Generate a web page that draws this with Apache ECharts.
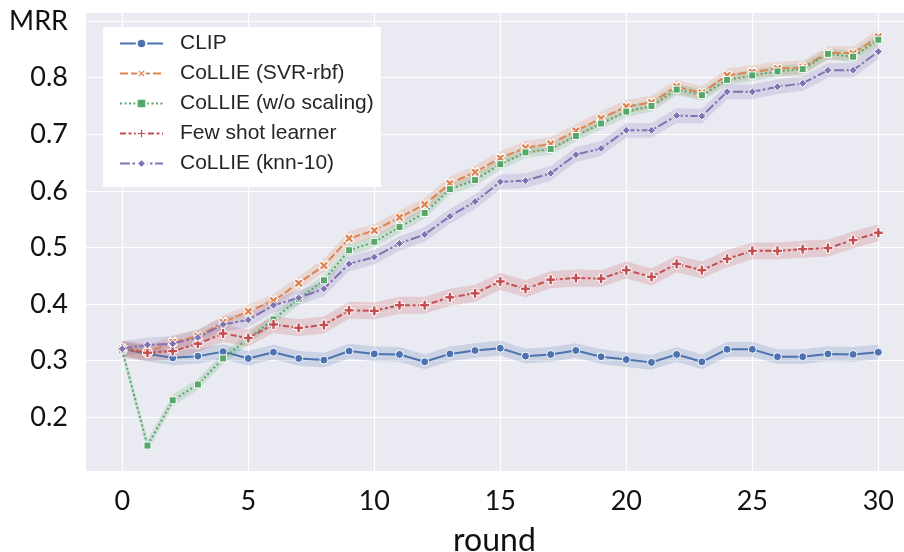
<!DOCTYPE html>
<html>
<head>
<meta charset="utf-8">
<script src="https://cdn.jsdelivr.net/npm/echarts@6/dist/echarts.min.js"></script>
<style>
html,body{margin:0;padding:0;background:#fff;}
#chart{width:904px;height:552px;}
</style>
</head>
<body>
<div id="chart"></div>
<script>
// ---- data ----
const rounds = [0,1,2,3,4,5,6,7,8,9,10,11,12,13,14,15,16,17,18,19,20,21,22,23,24,25,26,27,28,29,30];
const seriesNames = ['CLIP', 'CoLLIE (SVR-rbf)', 'CoLLIE (w/o scaling)', 'Few shot learner', 'CoLLIE (knn-10)'];
const clipMRR = [0.321,0.312,0.305,0.308,0.316,0.304,0.315,0.304,0.301,0.317,0.312,0.311,0.298,0.312,0.318,0.322,0.308,0.311,0.318,0.307,0.302,0.297,0.311,0.298,0.320,0.320,0.307,0.307,0.312,0.311,0.315];
const svrMRR  = [0.321,0.315,0.333,0.343,0.368,0.387,0.406,0.437,0.468,0.516,0.530,0.553,0.576,0.613,0.633,0.658,0.676,0.683,0.706,0.728,0.749,0.756,0.784,0.773,0.804,0.810,0.816,0.818,0.844,0.843,0.872];
const woMRR   = [0.318,0.150,0.230,0.258,0.304,0.339,0.373,0.409,0.442,0.495,0.510,0.536,0.561,0.603,0.619,0.647,0.668,0.674,0.697,0.719,0.740,0.750,0.779,0.769,0.796,0.804,0.811,0.815,0.842,0.837,0.867];
const fewMRR  = [0.321,0.314,0.317,0.330,0.348,0.340,0.364,0.358,0.363,0.389,0.388,0.398,0.398,0.412,0.419,0.440,0.427,0.443,0.446,0.445,0.460,0.448,0.471,0.460,0.480,0.494,0.494,0.497,0.499,0.513,0.526];
const knnMRR  = [0.321,0.328,0.330,0.341,0.364,0.372,0.398,0.411,0.427,0.471,0.483,0.507,0.523,0.555,0.581,0.616,0.618,0.631,0.664,0.675,0.707,0.707,0.733,0.732,0.775,0.775,0.784,0.790,0.813,0.813,0.846];
// estimated half-width of each confidence band
const ciHalf = [0.013, 0.012, 0.010, 0.015, 0.013];
const xTicks = [0,5,10,15,20,25,30];
const yTicks = [0.2,0.3,0.4,0.5,0.6,0.7,0.8];
const yTopLabel = 'MRR';
const xName = 'round';

// ---- styles ----
const values = [clipMRR, svrMRR, woMRR, fewMRR, knnMRR];
const colors = ['#4C72B0', '#DD8452', '#55A868', '#C44E52', '#8172B3'];
const plusPath = 'path://M2,0H4V2H6V4H4V6H2V4H0V2H2Z';
const symbols = ['circle', plusPath, 'rect', plusPath, 'diamond'];
const symbolSizes = [8, 10, 7, 10, 8];
const symbolRot = [0, 45, 0, 0, 0];
const dashes = ['solid', [8, 3], [2, 2.5], [6, 2.5, 3, 2.5], [10, 2.5, 2.5, 2.5]];

const series = [];
values.forEach((vals, k) => {
  const rows = rounds.map((r, i) => [r, vals[i] - ciHalf[k], vals[i] + ciHalf[k]]);
  series.push({
    type: 'custom', name: 'band' + k, silent: true, z: 1,
    data: rows,
    encode: {x: 0, y: [1, 2]},
    renderItem: (params, api) => {
      if (params.dataIndex !== 0) return null;
      const upper = rows.map(row => api.coord([row[0], row[2]]));
      const lower = rows.map(row => api.coord([row[0], row[1]])).reverse();
      return {
        type: 'polygon',
        shape: {points: upper.concat(lower)},
        style: {fill: colors[k], opacity: 0.2}
      };
    }
  });
});
values.forEach((vals, k) => {
  series.push({
    type: 'line', name: seriesNames[k], z: 3 + k,
    symbol: symbols[k], symbolSize: symbolSizes[k], symbolRotate: symbolRot[k],
    showAllSymbol: true,
    lineStyle: {color: colors[k], width: 2, type: dashes[k]},
    itemStyle: {color: colors[k], borderColor: '#ffffff', borderWidth: 1},
    data: rounds.map((r, i) => [r, vals[i]])
  });
});

const near = (v, list) => list.find(t => Math.abs(t - v) < 1e-6);

const chart = echarts.init(document.getElementById('chart'), null, {renderer: 'canvas'});
chart.setOption({
  animation: false,
  backgroundColor: '#ffffff',
  grid: {left: 85, right: 0, top: 12, bottom: 81, show: true, backgroundColor: '#EAEAF2', borderWidth: 0,
         containLabel: false, outerBoundsMode: 'none'},
  legend: {
    data: seriesNames,
    orient: 'vertical', left: 103, top: 27,
    backgroundColor: '#ffffff', borderWidth: 0,
    padding: [6, 7, 13, 16],
    itemWidth: 43, itemHeight: 12, itemGap: 9,
    textStyle: {fontFamily: 'Liberation Sans', fontSize: 21, color: '#262626', padding: [0, 0, 0, 12]}
  },
  xAxis: {
    type: 'value', min: -1.48, max: 31.02, minInterval: 5, maxInterval: 5,
    axisLine: {show: false}, axisTick: {show: false},
    splitLine: {show: true, lineStyle: {color: '#ffffff', width: 1.2}},
    axisLabel: {
      margin: 17, fontFamily: 'Lato', fontSize: 27, color: '#111',
      formatter: v => { const t = near(v, xTicks); return t === undefined ? '' : String(t); }
    },
    name: xName, nameLocation: 'middle', nameGap: 54,
    nameTextStyle: {fontFamily: 'Lato', fontSize: 32, color: '#111'}
  },
  yAxis: {
    type: 'value', min: 0.1051, max: 0.916, minInterval: 0.1, maxInterval: 0.1,
    axisLine: {show: false}, axisTick: {show: false},
    splitLine: {show: true, lineStyle: {color: '#ffffff', width: 1.2}},
    axisLabel: {
      margin: 17, fontFamily: 'Lato', fontSize: 27, color: '#111',
      formatter: v => {
        if (Math.abs(v - 0.9) < 1e-6) return yTopLabel;
        const t = near(v, yTicks); return t === undefined ? '' : t.toFixed(1);
      }
    }
  },
  series: series
});
</script>
</body>
</html>
